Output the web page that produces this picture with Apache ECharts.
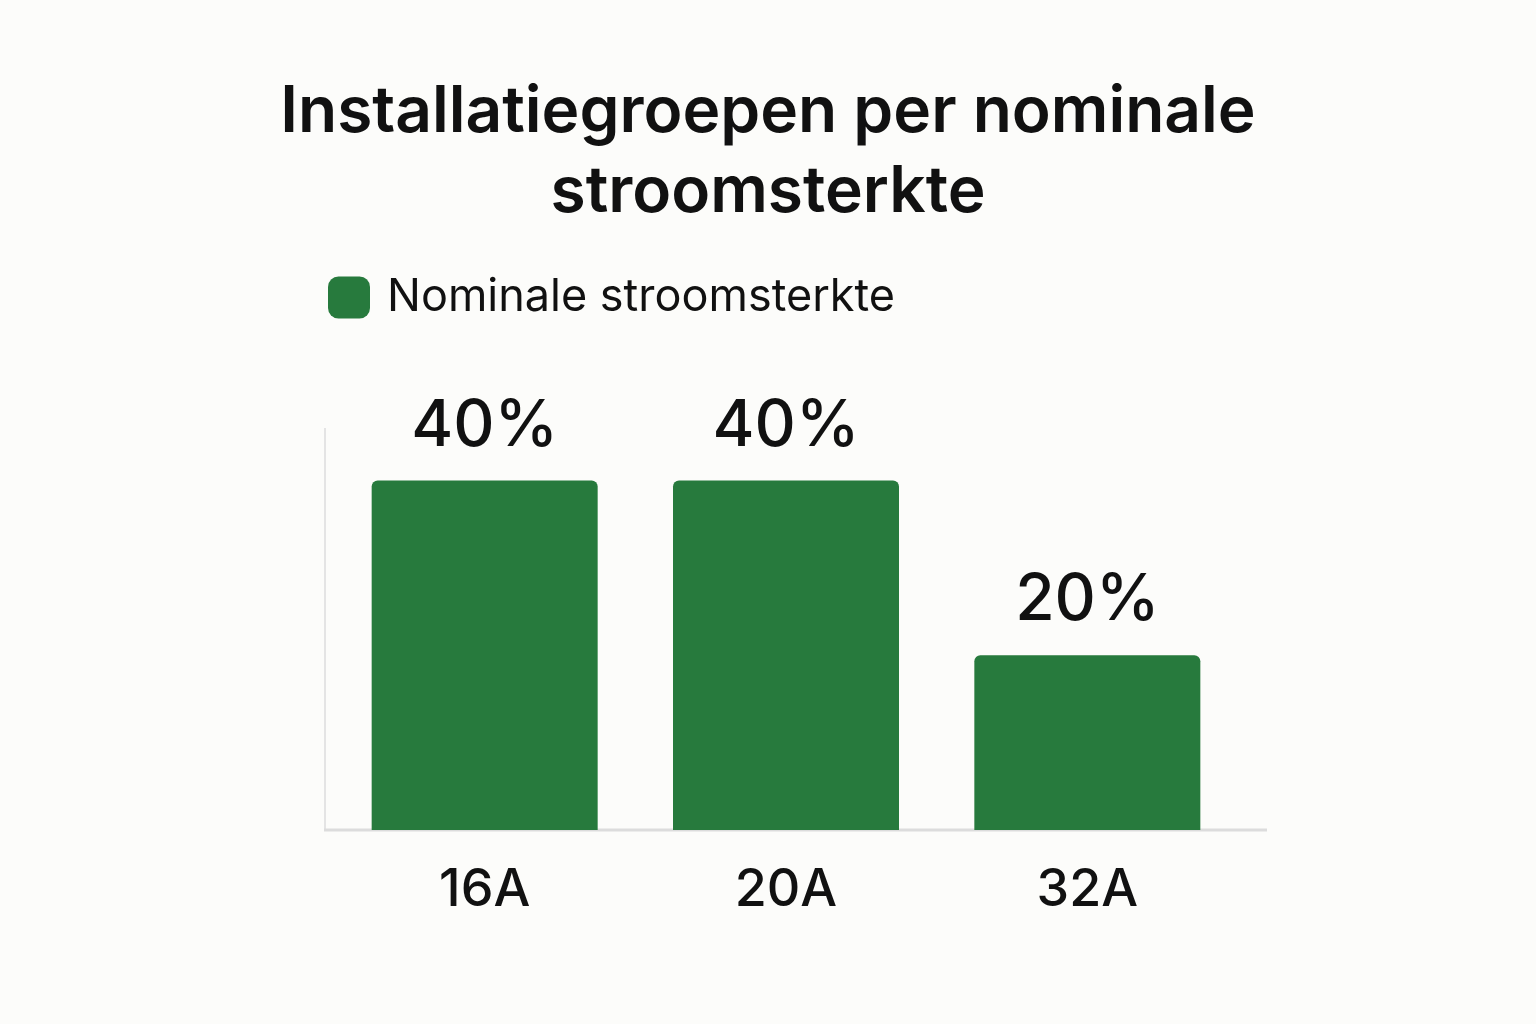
<!DOCTYPE html>
<html><head><meta charset="utf-8">
<script src="https://cdn.jsdelivr.net/npm/echarts@6/dist/echarts.min.js"></script>
<style>html,body{margin:0;background:#fcfcfa}#c{width:1536px;height:1024px}</style>
</head><body><div id="c"></div>
<script>
const categories = ['16A','20A','32A'];
const values = [40,40,20];
const seriesName = 'Nominale stroomsterkte';
const titleText = 'Installatiegroepen per nominale\nstroomsterkte';
const chart = echarts.init(document.getElementById('c'));
chart.setOption({
  backgroundColor:'#fcfcfa',
  title:{text:titleText,left:'center',top:68,textStyle:{fontFamily:'Inter',fontSize:64,fontWeight:600,color:'#111',lineHeight:80}},
  legend:{left:323,top:270,itemWidth:42,itemHeight:42,itemGap:20,textStyle:{fontFamily:'Inter',fontSize:45,color:'#111',padding:[0,0,0,12]},
    data:[{name:seriesName,icon:'roundRect'}]},
  grid:{left:334,right:298,top:428,bottom:194},
  xAxis:{type:'category',data:categories,axisTick:{show:false},
    axisLine:{show:false},
    axisLabel:{fontFamily:'Inter',fontSize:52,fontWeight:500,color:'#111',margin:34}},
  yAxis:{type:'value',min:0,max:46,splitLine:{show:false},axisLabel:{show:false},axisTick:{show:false},axisLine:{show:false}},
  graphic:[
    {type:'line',shape:{x1:325,y1:428,x2:325,y2:830},style:{stroke:'#e4e4e4',lineWidth:2},z:0},
    {type:'line',shape:{x1:324,y1:830,x2:1267,y2:830},style:{stroke:'#dcdcdc',lineWidth:3},z:0}
  ],
  series:[{name:seriesName,type:'bar',data:values,barWidth:'75%',
    itemStyle:{color:'#277a3d',borderRadius:[6,6,0,0]},
    label:{show:true,position:'top',distance:22,formatter:'{c}%',fontFamily:'Inter',fontSize:64,fontWeight:500,color:'#111'}}]
});
</script></body></html>
